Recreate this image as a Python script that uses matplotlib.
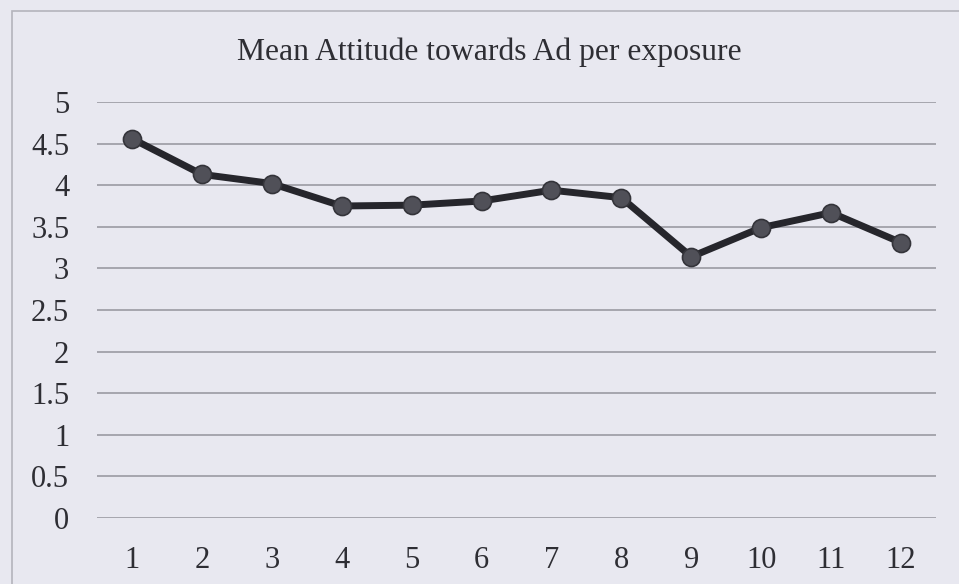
import matplotlib
matplotlib.use("Agg")
import matplotlib.pyplot as plt
import matplotlib.patches as mpatches

exposures = ["1", "2", "3", "4", "5", "6", "7", "8", "9", "10", "11", "12"]
mean_attitude = [4.56, 4.13, 4.02, 3.75, 3.76, 3.81, 3.94, 3.85, 3.14, 3.49, 3.67, 3.31]
y_ticks = [0, 0.5, 1, 1.5, 2, 2.5, 3, 3.5, 4, 4.5, 5]
y_tick_labels = ["0", "0.5", "1", "1.5", "2", "2.5", "3", "3.5", "4", "4.5", "5"]

plt.rcParams["font.family"] = ["Liberation Serif", "DejaVu Serif"]

W, H = 959, 584
bg = "#e8e8f0"
fig = plt.figure(figsize=(W / 100, H / 100), dpi=100, facecolor=bg)

# chart frame, running off the right and bottom edges
fig.patches.append(mpatches.Rectangle((12 / W, -0.1), 1.2, 1.1 - 11 / H,
                                      transform=fig.transFigure, fill=False,
                                      edgecolor="#b4b4bc", linewidth=1.2))

ax = fig.add_axes([97 / W, (H - 518) / H, 839 / W, 416 / H])
ax.set_facecolor(bg)
x = list(range(1, len(exposures) + 1))
ax.plot(x, mean_attitude, color="#26262c", linewidth=5, marker="o",
        markersize=13, markerfacecolor="#505058", markeredgecolor="#34343a",
        markeredgewidth=1.2, zorder=3)

ax.set_xlim(0.5, 12.5)
ax.set_ylim(0, 5)
ax.set_xticks(x)
ax.set_xticklabels(exposures)
ax.set_yticks(y_ticks)
ax.set_yticklabels(y_tick_labels)
ax.tick_params(axis="both", length=0, labelsize=22, colors="#2e2e34")
ax.tick_params(axis="x", pad=20)
ax.tick_params(axis="y", pad=20)

ax.grid(axis="y", color="#94949c", linewidth=1.1)
ax.set_axisbelow(True)
for s in ax.spines.values():
    s.set_visible(False)

fig.text(489 / W, 1 - 52 / H, "Mean Attitude towards Ad per exposure",
         ha="center", va="center", fontsize=22.8, color="#2e2e34")

fig.savefig("out.png", dpi=100, facecolor=bg)
